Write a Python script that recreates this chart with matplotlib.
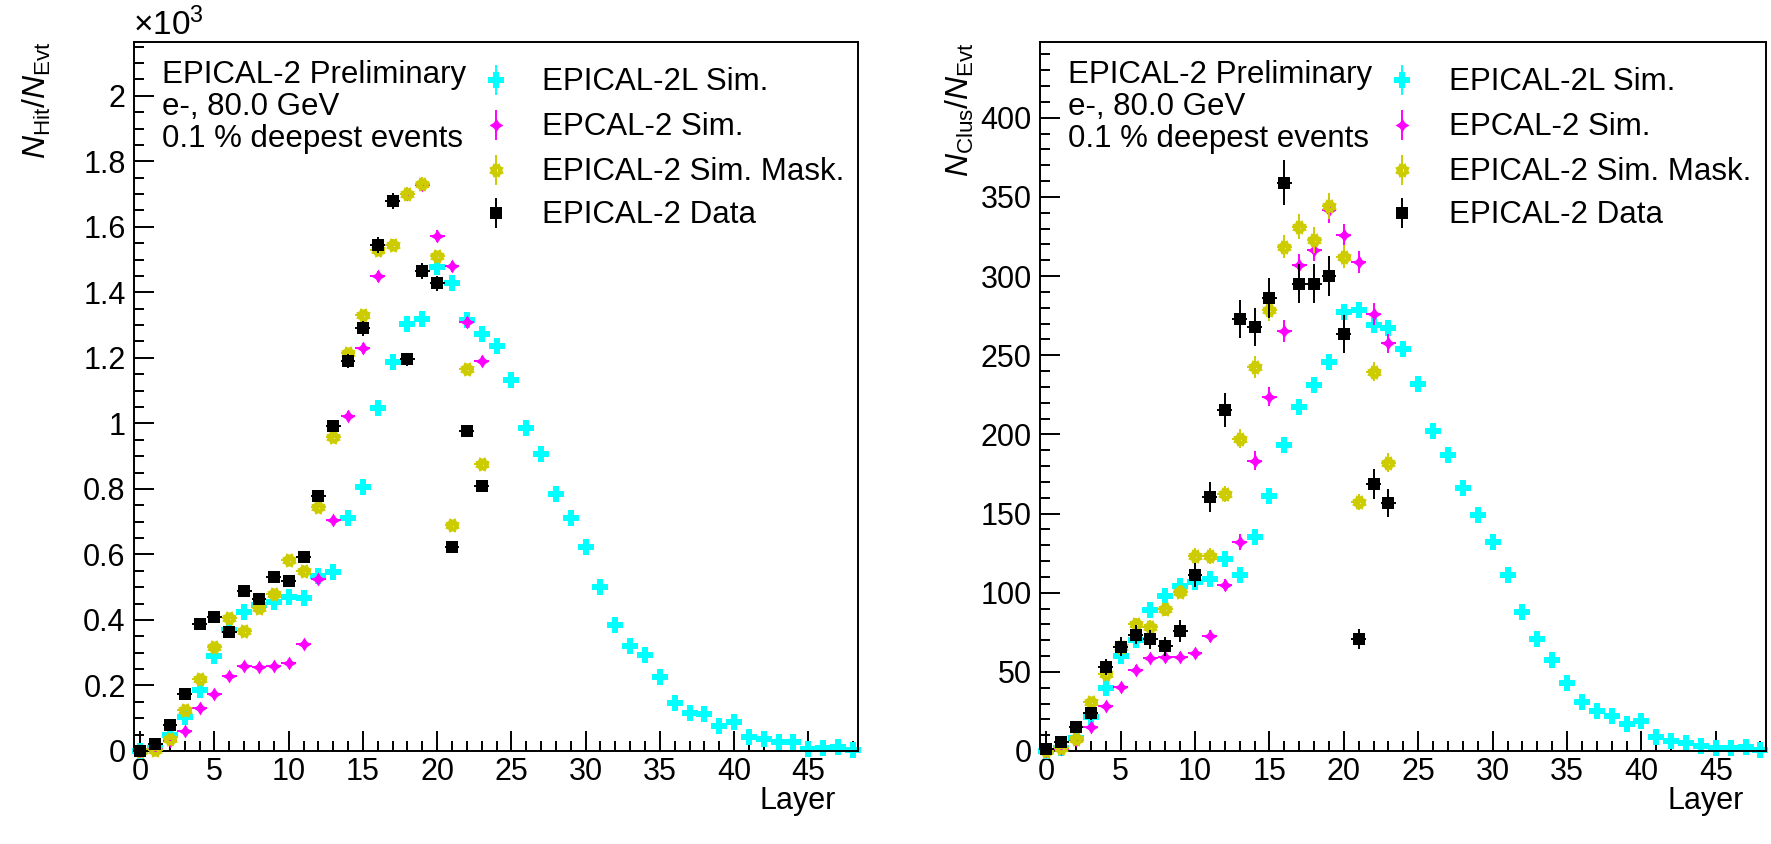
import numpy as np
import matplotlib
matplotlib.use("Agg")
import matplotlib.pyplot as plt
from matplotlib.path import Path
from matplotlib.ticker import MultipleLocator, FuncFormatter

plt.rcParams['font.family'] = ['Liberation Sans', 'DejaVu Sans']
plt.rcParams['mathtext.fontset'] = 'custom'
plt.rcParams['mathtext.rm'] = 'Liberation Sans'
plt.rcParams['mathtext.it'] = 'Liberation Sans:italic'
plt.rcParams['mathtext.bf'] = 'Liberation Sans:bold'

# ---------------- data ----------------
layers_2l = list(range(49))
layers_2 = list(range(24))

series_labels = ["EPICAL-2L Sim.", "EPCAL-2 Sim.", "EPICAL-2 Sim. Mask.", "EPICAL-2 Data"]
series_colors = ["#00ffff", "#ff00ff", "#cccc00", "#000000"]

# hits per event
hit_2l = [0, 10, 50, 105, 187, 290, 370, 424, 445, 456, 471, 468, 534, 546, 710, 805,
          1046, 1188, 1303, 1320, 1476, 1427, 1315, 1274, 1236, 1132, 987, 906, 783, 712,
          623, 502, 385, 322, 293, 227, 146, 115, 112, 77, 89, 44, 38, 28, 27, 7, 8, 13, 4]
hit_2l_err = [0, 2, 4, 5, 7, 8, 9, 10, 10, 10, 10, 10, 11, 11, 13, 14, 16, 17, 17, 18,
              19, 18, 18, 17, 17, 16, 15, 14, 13, 13, 12, 11, 9, 9, 8, 7, 6, 5, 5, 4,
              4, 3, 3, 3, 3, 1, 1, 2, 1]
hit_2 = [0, 5, 30, 62, 131, 175, 230, 260, 256, 260, 270, 327, 524, 705, 1023, 1229,
         1449, 1680, 1701, 1728, 1571, 1480, 1308, 1191]
hit_2_err = [0, 1, 2, 4, 5, 6, 7, 7, 7, 7, 7, 8, 10, 12, 14, 16, 17, 19, 19, 19, 18, 17, 16, 16]
hit_mask = [0, 3, 37, 124, 220, 317, 405, 365, 436, 480, 583, 548, 746, 959, 1215, 1330,
            1530, 1544, 1701, 1732, 1510, 690, 1166, 875]
hit_mask_err = [0, 1, 3, 5, 7, 8, 9, 9, 9, 10, 11, 11, 12, 14, 16, 16, 18, 18, 19, 19, 17, 12, 15, 13]
hit_data = [0, 22, 80, 174, 388, 410, 362, 487, 464, 530, 520, 591, 779, 992, 1190, 1290,
            1544, 1679, 1195, 1465, 1427, 624, 977, 810]
hit_data_err = [0, 3, 5, 8, 12, 12, 11, 13, 13, 14, 14, 15, 17, 19, 21, 22, 24, 25, 21, 23,
                23, 15, 19, 17]

# clusters per event
clus_2l = [0, 2, 8, 21.7, 40, 60, 70, 89, 98, 104, 107, 108.5, 121, 111, 135, 161, 193,
           217.5, 231, 246, 277.5, 278.6, 269, 267, 254, 232, 202, 187, 166, 149, 132, 111,
           88, 71, 57.5, 43, 31, 25, 22, 17, 19, 9, 6.5, 4.8, 3.4, 1.7, 1.7, 2.7, 0.6]
clus_2l_err = [0, 0.5, 1, 1.5, 2, 2, 3, 3, 3, 3, 3, 3, 3, 3, 4, 4, 4, 5, 5, 5, 5, 5, 5, 5,
               5, 5, 4, 4, 4, 4, 4, 3, 3, 3, 2, 2, 2, 2, 1.5, 1.5, 1.5, 1, 1, 1, 0.5, 0.5,
               0.5, 0.5, 0.3]
clus_2 = [0, 1, 7, 15, 28.6, 40.2, 51.2, 58.5, 59.6, 59.6, 61.7, 72.6, 104.9, 131.8, 183.4,
          223.8, 265.3, 307, 316.5, 341.8, 326, 308.7, 275.9, 257.5]
clus_2_err = [0, 0.5, 1, 2, 2, 3, 3, 3, 3, 3, 3, 4, 4, 5, 6, 6, 7, 7, 7, 8, 7, 7, 7, 6]
clus_mask = [0, 2, 7.4, 30.8, 48.6, 65.9, 80.2, 78.5, 89.5, 100.6, 123.2, 123.2, 162.4,
             197.1, 242.4, 278.6, 318.6, 331.2, 322.8, 344.3, 312.3, 157.1, 239.6, 182.1]
clus_mask_err = [0, 1, 1, 2, 3, 3, 4, 4, 4, 4, 5, 5, 5, 6, 7, 7, 7, 8, 8, 8, 7, 5, 6, 6]
clus_data = [1.3, 5.9, 15.4, 23.8, 53.3, 65.9, 73.3, 70.6, 66.3, 75.8, 111.2, 160.3, 215.4,
             272.7, 267.7, 286, 359, 295, 295, 300, 263.2, 70.6, 168.5, 156.5]
clus_data_err = [1, 2, 3, 4, 5, 6, 6, 6, 6, 7, 7.4, 9.5, 10.7, 12, 12, 12.5, 14, 12.3, 12.3,
                 12.6, 12, 6.3, 9.3, 8.7]

info_lines = ["EPICAL-2 Preliminary", "e-, 80.0 GeV", "0.1 % deepest events"]


# ---------------- marker shapes ----------------
def open_cross(a=0.42, h=0.13):
    outer = [(1, -a), (1, a), (a, a), (a, 1), (-a, 1), (-a, a), (-1, a), (-1, -a),
             (-a, -a), (-a, -1), (a, -1), (a, -a), (1, -a)]
    hole = [(-h, h), (h, h), (h, -h), (-h, -h), (-h, h)]
    verts = outer + hole
    codes = ([Path.MOVETO] + [Path.LINETO] * (len(outer) - 2) + [Path.CLOSEPOLY] +
             [Path.MOVETO] + [Path.LINETO] * (len(hole) - 2) + [Path.CLOSEPOLY])
    return Path(verts, codes)


def four_star(r=0.38):
    pts = [(1, 0), (r, r), (0, 1), (-r, r), (-1, 0), (-r, -r), (0, -1), (r, -r), (1, 0)]
    codes = [Path.MOVETO] + [Path.LINETO] * 7 + [Path.CLOSEPOLY]
    return Path(pts, codes)


def gear(n=8, r_in=0.74, hole=0.2):
    ang = np.linspace(0, 2 * np.pi, 2 * n, endpoint=False) + np.pi / 8
    rad = np.where(np.arange(2 * n) % 2 == 0, 1.0, r_in)
    outer = [(r * np.cos(t), r * np.sin(t)) for r, t in zip(rad, ang)]
    outer.append(outer[0])
    t2 = np.linspace(0, -2 * np.pi, 13)
    inner = [(hole * np.cos(t), hole * np.sin(t)) for t in t2]
    verts = outer + inner
    codes = ([Path.MOVETO] + [Path.LINETO] * (len(outer) - 2) + [Path.CLOSEPOLY] +
             [Path.MOVETO] + [Path.LINETO] * (len(inner) - 2) + [Path.CLOSEPOLY])
    return Path(verts, codes)


markers = [open_cross(), four_star(), gear(), 's']
msizes = [11.0, 10.0, 10.4, 9.2]

# ---------------- figure ----------------
fig = plt.figure(figsize=(17.71, 8.44), dpi=100)
W, H = 1771.0, 844.0
ax_l = fig.add_axes([134 / W, 1 - 751 / H, (858 - 134) / W, (751 - 41.7) / H])
ax_r = fig.add_axes([1040 / W, 1 - 751 / H, (1765.7 - 1040) / W, (751 - 41.7) / H])


def draw_panel(ax, xs, ys, es, ymax, major, minor, ylabel, ylab_x):
    for i in range(4):
        c = series_colors[i]
        ax.errorbar(xs[i], ys[i], xerr=0.5, yerr=es[i], fmt='none', ecolor=c,
                    elinewidth=1.4, capsize=0, zorder=2 + i, clip_on=False)
        ax.plot(xs[i], ys[i], ls='none', marker=markers[i], ms=msizes[i], mfc=c, mec=c,
                mew=0, zorder=2.5 + i, clip_on=False)

    ax.set_xlim(-0.42, 48.35)
    ax.set_ylim(0, ymax)
    ax.xaxis.set_major_locator(MultipleLocator(5))
    ax.xaxis.set_minor_locator(MultipleLocator(1))
    ax.yaxis.set_major_locator(MultipleLocator(major))
    ax.yaxis.set_minor_locator(MultipleLocator(minor))
    ax.tick_params(which='both', direction='in', top=False, right=False, width=1.4,
                   labelsize=22)
    ax.tick_params(which='major', length=14.5)
    ax.tick_params(which='minor', length=7.2)
    ax.tick_params(axis='x', pad=4)
    ax.tick_params(axis='y', pad=6)
    for s in ax.spines.values():
        s.set_linewidth(1.4)

    # info block
    for k, line in enumerate(info_lines):
        ax.text(0.038, [0.9413, 0.8969, 0.8521][k], line, transform=ax.transAxes,
                fontsize=22.5, ha='left', va='baseline')

    # legend
    lx, tx = 0.4995, 0.5635
    rows = [0.9460, 0.8826, 0.8191, 0.7581]
    d = 14 / 709.3
    for i in range(4):
        c = series_colors[i]
        y = rows[i]
        ax.plot([lx, lx], [y - d, y + d], transform=ax.transAxes, color=c, lw=1.4,
                clip_on=False, zorder=10)
        ax.plot([lx], [y], transform=ax.transAxes, ls='none', marker=markers[i],
                ms=msizes[i], mfc=c, mec=c, mew=0, clip_on=False, zorder=11)
        ax.text(tx, y - 10 / 709.3, series_labels[i], transform=ax.transAxes,
                fontsize=22.5, ha='left', va='baseline')

    ax.text(ylab_x, 1.0, ylabel, transform=ax.transAxes, rotation=90, fontsize=23,
            ha='center', va='top')
    ax.text(0.97, -0.082, "Layer", transform=ax.transAxes, fontsize=22, ha='right',
            va='baseline')


draw_panel(ax_l,
           [layers_2l, layers_2, layers_2, layers_2],
           [hit_2l, hit_2, hit_mask, hit_data],
           [hit_2l_err, hit_2_err, hit_mask_err, hit_data_err],
           2165, 200, 50, r"$N_{\mathrm{Hit}}/N_{\mathrm{Evt}}$", -0.134)
ax_l.yaxis.set_major_formatter(FuncFormatter(lambda v, p: f"{v / 1000:g}"))
ax_l.text(-0.002, 1.0094, r"$\times10^{3}$", transform=ax_l.transAxes, fontsize=24,
          ha='left', va='baseline')

draw_panel(ax_r,
           [layers_2l, layers_2, layers_2, layers_2],
           [clus_2l, clus_2, clus_mask, clus_data],
           [clus_2l_err, clus_2_err, clus_mask_err, clus_data_err],
           448, 50, 10, r"$N_{\mathrm{Clus}}/N_{\mathrm{Evt}}$", -0.11)
ax_r.yaxis.set_major_formatter(FuncFormatter(lambda v, p: f"{v:g}"))

fig.savefig("out.png", dpi=100)
